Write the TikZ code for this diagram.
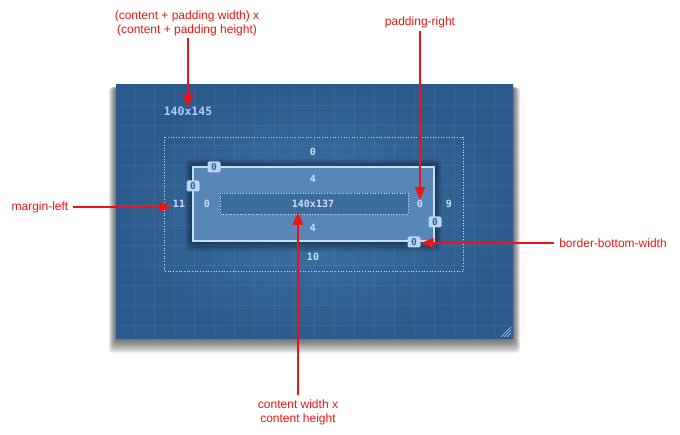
\documentclass[tikz,border=0pt]{standalone}
\usepackage{fontspec}
\setmainfont{Liberation Sans}
\newfontfamily\monof{DejaVu Sans Mono}
\usetikzlibrary{arrows.meta}
\definecolor{redc}{RGB}{236,20,20}
\definecolor{paneldark}{RGB}{45,90,140}
\definecolor{panellight}{RGB}{62,116,168}
\definecolor{boxfill}{RGB}{88,135,183}
\definecolor{boxline}{RGB}{196,224,250}
\definecolor{contfill}{RGB}{60,108,157}
\definecolor{ptext}{RGB}{200,224,248}
\definecolor{htext}{RGB}{170,208,245}
\definecolor{badgefill}{RGB}{182,214,244}
\definecolor{badgetext}{RGB}{52,100,150}
\tikzset{
  lbl/.style={font=\fontsize{12}{14}\selectfont, text=redc, align=center, inner sep=1pt},
  redarrow/.style={draw=redc, line width=2.2pt, -{Triangle[length=13pt,width=10pt]}},
  pval/.style={font=\monof\bfseries\fontsize{10}{11}\selectfont, text=ptext, inner sep=1pt},
  badge/.style={font=\monof\bfseries\fontsize{9.5}{10}\selectfont, text=badgetext, fill=badgefill,
    rounded corners=2pt, minimum width=13pt, minimum height=11pt, inner sep=0pt},
  dotbox/.style={draw=boxline, dotted, line width=0.7pt},
  gridline/.style={draw=white, opacity=0.06, line width=0.6pt}
}
\begin{document}
\begin{tikzpicture}[x=1pt,y=-1pt]
\useasboundingbox[fill=white] (0,0) rectangle (680,435);
% panel shadow (layered)
\foreach \d in {1,...,12} \fill[black, opacity=0.06, rounded corners=4pt] (116-0.6*\d,85+2) rectangle (513+0.6*\d,339+1.2*\d);
% panel
\shade[inner color=panellight, outer color=paneldark] (116,85) rectangle (513,339);
\foreach \gx in {134,154,...,494} \draw[gridline] (\gx,85) -- (\gx,339);
\foreach \gy in {105,125,...,325} \draw[gridline] (116,\gy) -- (513,\gy);
% resize grip
\foreach \d in {3,6,9} \draw[white, opacity=0.7, line width=0.6pt] (510-\d,337) -- (511,337-\d-1);
% margin box
\draw[dotbox] (164,137) rectangle (463,271);
% border box shadow (dark glow)
\foreach \d in {1,...,10} \fill[black, opacity=0.05, rounded corners=5pt] (193-0.8*\d,167-0.8*\d) rectangle (434+0.8*\d,241+1.1*\d);
\fill[boxfill] (193,167) rectangle (434,241);
\fill[contfill] (220,193) rectangle (408,214);
\draw[dotbox] (220,193) rectangle (408,214);
\draw[boxline, line width=1.6pt] (193,167) rectangle (434,241);
% values
\node[pval, font=\monof\bfseries\fontsize{11.5}{12}\selectfont, text=htext] (outersize) at (188,111) {140x145};
\node[pval] (mt) at (313,152) {0};
\node[pval] (pt) at (313,179) {4};
\node[pval] (csize) at (313,204) {140x137};
\node[pval] (pb) at (313,228) {4};
\node[pval] (mb) at (313,257) {10};
\node[pval] (ml) at (179,204) {11};
\node[pval] (pl) at (207,204) {0};
\node[pval] (pr) at (420,204) {0};
\node[pval] (mr) at (449,204) {9};
\node[badge] (bt) at (214,167) {0};
\node[badge] (bl) at (193,186) {0};
\node[badge] (br) at (435,222) {0};
\node[badge] (bb) at (414,242) {0};
% labels
\node[lbl] (ltop) at (187,23) {(content + padding width) x\\(content + padding height)};
\node[lbl] (lpr) at (420,22) {padding-right};
\node[lbl] (lml) at (40,207) {margin-left};
\node[lbl] (lbb) at (613,243) {border-bottom-width};
\node[lbl] (lcs) at (298,412) {content width x\\content height};
\coordinate (ctip) at (298,212);
% arrows
\draw[redarrow] (ltop.south -| outersize.north) ++(0,1) -- ([yshift=-2pt]outersize.north);
\draw[redarrow] (lpr.south -| pr.north) ++(0,2) -- ([yshift=-1pt]pr.north);
\draw[redarrow] ([xshift=3pt]lml.east) -- (lml.east -| ml.west);
\draw[redarrow] ([xshift=-4pt]lbb.west) -- (lbb.west -| bb.east);
\draw[redarrow] ([yshift=3pt]lcs.north) -- (ctip);
\end{tikzpicture}
\end{document}
